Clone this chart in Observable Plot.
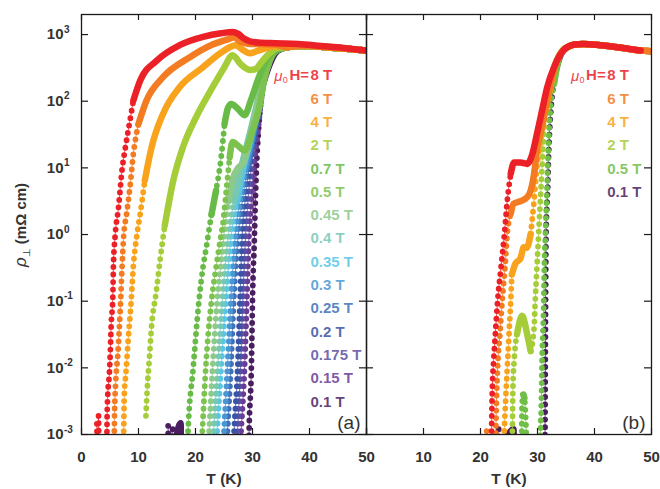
<!DOCTYPE html>
<html><head><meta charset="utf-8">
<script src="https://cdn.jsdelivr.net/npm/d3@7"></script>
<script src="https://cdn.jsdelivr.net/npm/@observablehq/plot@0.6"></script>
<style>body{margin:0;background:#fff}svg{display:block}</style>
</head><body><div id="chart"></div>
<script>
// ---------------- data ----------------
const panels = ["a", "b"];
const xTicks = [0, 10, 20, 30, 40, 50];
const xTickLabelsB = [10, 20, 30, 40, 50];
const yTicks = [1e-3, 1e-2, 1e-1, 1e0, 1e1, 1e2, 1e3];
const yExponents = ["-3", "-2", "-1", "0", "1", "2", "3"];

// legend order (top to bottom)
const legendA = ["8 T", "6 T", "4 T", "2 T", "0.7 T", "0.5 T", "0.45 T", "0.4 T", "0.35 T", "0.3 T", "0.25 T", "0.2 T", "0.175 T", "0.15 T", "0.1 T"];
const legendColorsA = ["#ec2027", "#f37b21", "#f8a31b", "#a5cd39", "#68bb46", "#7cc24e", "#8cc98a", "#76c8b4", "#57c5e6", "#4b96d2", "#3e6fb8", "#3b53a5", "#5b4fa3", "#6a3a96", "#4a1f5f"];
const legendB = ["8 T", "6 T", "4 T", "2 T", "0.5 T", "0.1 T"];
const legendColorsB = ["#ec2027", "#f37b21", "#f8a31b", "#a5cd39", "#6fbe46", "#4a1f5f"];

// values: T in K, lg = log10 of rho_perp in mOhm cm
// shared normal-state tails
const tailA_T = [36, 38, 40, 43, 46, 50];
const tailA_lg = [2.81, 2.83, 2.83, 2.81, 2.79, 2.76];
const tailB_T = [35.5, 36.5, 38, 41, 44, 48, 50];
const tailB_lg = [2.82, 2.85, 2.86, 2.84, 2.81, 2.76, 2.75];

// panel (a)
const a01_T = [15.2, 15.25, 16.0, 16.05, 17.4, 17.45, 29.3, 29.4, 29.8, 30.0, 30.35, 30.5, 30.7, 31.0, 31.5, 32.0, 33.0, 34.3];
const a01_lg = [-2.87, -3.4, -2.92, -3.4, -2.83, -3.4, -3.4, -2.95, -2.0, -1.0, 0.0, 0.5, 1.0, 1.5, 2.0, 2.3, 2.55, 2.75];
const a015_T = [27.7, 28.0, 28.6, 29.0, 29.4, 29.8, 30.2, 30.9, 31.5, 32.3, 33.2, 34.5];
const a015_lg = [-3.4, -2.95, -2.0, -1.0, 0.0, 0.5, 1.0, 1.5, 2.0, 2.4, 2.65, 2.78];
const a0175_T = [27.1, 27.4, 27.9, 28.3, 28.8, 29.2, 29.8, 30.6, 31.4, 32.2, 33.2, 34.5];
const a0175_lg = [-3.4, -2.9, -2.0, -1.0, 0.0, 0.5, 1.0, 1.5, 2.0, 2.4, 2.65, 2.78];
const a02_T = [26.5, 26.8, 27.4, 27.8, 28.2, 28.7, 29.4, 30.4, 31.3, 32.2, 33.1, 34.5];
const a02_lg = [-3.4, -2.9, -2.0, -1.0, 0.0, 0.5, 1.0, 1.5, 2.0, 2.4, 2.65, 2.78];
const a025_T = [25.3, 25.6, 26.2, 26.7, 27.5, 28.2, 29.1, 30.2, 31.2, 32.1, 33.1, 34.5];
const a025_lg = [-3.4, -2.95, -2.0, -1.0, 0.0, 0.5, 1.0, 1.5, 2.0, 2.4, 2.65, 2.78];
const a03_T = [24.7, 25.0, 25.6, 26.2, 27.0, 27.8, 28.8, 30.0, 31.1, 32.1, 33.1, 34.5];
const a03_lg = [-3.4, -2.95, -2.0, -1.0, 0.0, 0.5, 1.0, 1.5, 2.0, 2.4, 2.65, 2.78];
const a035_T = [23.5, 23.8, 24.5, 25.3, 26.3, 27.3, 28.4, 29.8, 31.0, 32.0, 33.0, 34.5];
const a035_lg = [-3.4, -2.95, -2.0, -1.0, 0.0, 0.5, 1.0, 1.5, 2.0, 2.4, 2.65, 2.78];
const a04_T = [22.9, 23.2, 23.9, 24.7, 25.8, 26.8, 28.0, 29.5, 30.9, 32.0, 33.0, 34.5];
const a04_lg = [-3.4, -2.95, -2.0, -1.0, 0.0, 0.5, 1.0, 1.5, 2.0, 2.4, 2.65, 2.78];
const a045_T = [22.1, 22.4, 23.0, 23.8, 24.4, 25.0, 25.8, 26.6, 27.5, 28.4, 29.2, 30.2, 31.0, 32.0, 33.0, 34.5];
const a045_lg = [-3.4, -2.95, -2.0, -1.0, -0.5, 0.0, 0.5, 0.85, 1.0, 1.08, 1.3, 1.7, 2.0, 2.4, 2.65, 2.78];
const a05_T = [20.9, 21.2, 21.8, 22.8, 23.6, 24.4, 24.8, 25.4, 26.0, 26.5, 27.5, 28.6, 30.0, 31.2, 32.0, 33.0, 34.5];
const a05_lg = [-3.4, -2.95, -2.0, -1.0, -0.5, -0.05, 0.16, 0.66, 1.16, 1.39, 1.33, 1.26, 1.56, 1.91, 2.3, 2.6, 2.78];
const a07_T = [18.5, 18.7, 19.6, 20.6, 21.3, 21.9, 22.8, 23.6, 24.5, 25.1, 25.7, 26.3, 27.3, 28.6, 29.7, 30.9, 32.1, 33.2, 34.4];
const a07_lg = [-3.4, -2.95, -2.0, -1.0, -0.5, -0.19, 0.3, 0.66, 1.16, 1.66, 1.9, 1.96, 1.9, 1.79, 2.01, 2.31, 2.56, 2.7, 2.77];
const a2_T = [11.3, 11.6, 11.9, 12.3, 13.1, 13.8, 14.6, 16.1, 17.8, 20.1, 23.0, 25.0, 26.5, 28.0, 29.5, 30.5, 31.5, 33.0, 34.5];
const a2_lg = [-2.72, -2.22, -1.87, -1.37, -0.87, -0.37, 0.13, 0.81, 1.31, 1.76, 2.21, 2.5, 2.69, 2.55, 2.47, 2.48, 2.58, 2.72, 2.8];
const a4_T = [7.3, 7.4, 7.5, 7.8, 8.2, 8.7, 9.1, 9.7, 10.3, 11.1, 12.3, 14.3, 17.2, 21.3, 24.0, 26.0, 27.0, 28.5, 29.5, 31.0, 33.0, 35.0];
const a4_lg = [-3.4, -2.98, -2.42, -2.07, -1.57, -1.02, -0.47, -0.02, 0.31, 0.81, 1.31, 1.81, 2.21, 2.51, 2.7, 2.81, 2.84, 2.76, 2.72, 2.76, 2.81, 2.83];
const a6_T = [5.7, 5.8, 6.0, 6.4, 6.8, 7.1, 7.4, 7.9, 8.5, 9.1, 10.0, 11.4, 14.3, 19.0, 23.0, 26.0, 26.7, 28.0, 29.5, 31.0, 34.0];
const a6_lg = [-3.4, -2.68, -2.22, -1.77, -1.12, -0.52, -0.02, 0.3, 0.71, 1.21, 1.66, 2.01, 2.36, 2.66, 2.85, 2.94, 2.96, 2.89, 2.86, 2.86, 2.85];
const a8_T = [2.7, 2.75, 3.0, 3.05, 4.4, 4.5, 4.6, 4.9, 5.05, 5.2, 5.5, 5.6, 5.9, 6.5, 7.1, 7.7, 8.5, 9.1, 10.3, 13.2, 17.2, 21.5, 24.5, 26.5, 27.5, 28.5, 29.5, 31.0, 34.0, 38.0, 42.0, 46.0, 50.0];
const a8_lg = [-2.84, -3.4, -2.72, -3.4, -3.4, -2.68, -2.42, -2.07, -1.77, -1.37, -0.92, -0.47, -0.02, 0.41, 0.96, 1.31, 1.71, 2.01, 2.31, 2.61, 2.84, 2.97, 3.02, 3.04, 3.01, 2.94, 2.9, 2.88, 2.87, 2.86, 2.83, 2.8, 2.76];

// panel (b)
const b01_T = [23.2, 23.25, 25.8, 25.85, 31.3, 31.35, 31.42, 31.5, 31.8, 31.95, 32.1, 32.4, 33.0, 34.2];
const b01_lg = [-2.92, -3.4, -2.92, -3.4, -3.4, -2.3, -1.05, -0.02, 0.73, 1.2, 1.51, 1.91, 2.4, 2.72];
const b05_T = [27.2, 27.3, 27.5, 27.7, 27.9, 28.0, 28.1, 30.4, 30.5, 30.7, 30.8, 31.0, 31.1, 31.2, 31.4, 31.6, 31.8, 32.0, 32.3, 32.9, 34.0];
const b05_lg = [-3.4, -2.55, -2.4, -2.45, -2.7, -2.95, -3.4, -3.4, -3.0, -2.45, -1.9, -1.35, -1.0, -0.49, 0.01, 0.51, 1.01, 1.51, 1.91, 2.26, 2.7];
const b2_T = [25.5, 25.6, 25.7, 25.9, 26.4, 27.3, 28.2, 28.8, 29.4, 29.6, 29.9, 30.2, 30.5, 30.8, 31.1, 31.5, 32.3, 33.3, 34.5];
const b2_lg = [-3.4, -2.9, -2.25, -1.9, -1.5, -1.22, -1.5, -1.75, -1.4, -1.0, -0.49, 0.01, 0.51, 1.01, 1.51, 1.91, 2.31, 2.6, 2.77];
const b4_T = [24.0, 24.2, 24.4, 24.7, 25.0, 25.3, 25.5, 26.1, 27.0, 27.6, 28.1, 28.8, 29.4, 29.9, 30.5, 31.1, 32.0, 33.0, 34.5];
const b4_lg = [-3.4, -2.9, -2.5, -2.0, -1.5, -1.0, -0.6, -0.44, -0.36, -0.19, -0.2, 0.01, 0.51, 1.01, 1.41, 1.76, 2.11, 2.5, 2.77];
const b6_T = [21.0, 21.1, 21.15, 22.6, 22.7, 22.8, 23.0, 23.4, 23.8, 24.3, 24.7, 25.3, 25.8, 27.0, 28.2, 28.8, 29.4, 29.9, 30.8, 31.7, 33.0, 34.3];
const b6_lg = [-3.4, -2.94, -3.4, -3.4, -2.9, -2.5, -2.0, -1.5, -1.0, -0.49, 0.01, 0.31, 0.46, 0.5, 0.56, 0.66, 0.91, 1.26, 1.61, 2.01, 2.5, 2.75];
const b8_T = [21.9, 22.0, 22.1, 22.3, 22.6, 23.0, 23.6, 24.2, 24.7, 25.3, 25.9, 27.0, 28.2, 29.1, 29.9, 30.8, 31.7, 32.9, 34.0, 35.0, 36.5, 38.0, 41.0, 44.0, 48.1];
const b8_lg = [-3.4, -2.6, -2.25, -1.9, -1.5, -1.0, -0.49, 0.01, 0.51, 0.91, 1.08, 1.08, 1.06, 1.21, 1.51, 1.86, 2.21, 2.51, 2.7, 2.8, 2.85, 2.86, 2.84, 2.81, 2.76];

// drawing order (low field first, highest field on top)
const seriesA = [
  [a01_T, a01_lg, "#4a1f5f", true], [a015_T, a015_lg, "#6a3a96", true], [a0175_T, a0175_lg, "#5b4fa3", true],
  [a02_T, a02_lg, "#3b53a5", true], [a025_T, a025_lg, "#3e6fb8", true], [a03_T, a03_lg, "#4b96d2", true],
  [a035_T, a035_lg, "#57c5e6", true], [a04_T, a04_lg, "#76c8b4", true], [a045_T, a045_lg, "#8cc98a", true],
  [a05_T, a05_lg, "#7cc24e", true], [a07_T, a07_lg, "#68bb46", true], [a2_T, a2_lg, "#a5cd39", true],
  [a4_T, a4_lg, "#f8a31b", true], [a6_T, a6_lg, "#f37b21", true], [a8_T, a8_lg, "#ec2027", false]
];
const seriesB = [
  [b01_T, b01_lg, "#4a1f5f", true], [b05_T, b05_lg, "#6fbe46", true], [b2_T, b2_lg, "#a5cd39", true],
  [b4_T, b4_lg, "#f8a31b", true], [b6_T, b6_lg, "#f37b21", true], [b8_T, b8_lg, "#ec2027", false]
];

// ---------------- layout ----------------
const W = 660, H = 489, mL = 81, mR = 9, mT = 14, mB = 55;
const facetW = (W - mL - mR) / 2, plotH = H - mT - mB;
const pxPerDecade = plotH / Math.log10(2000 / 1e-3), pxPerK = facetW / 50;
const FONT = "'Liberation Sans', Arial, Helvetica, sans-serif";
const INK = "#333";

function rows(panel, T, lg, withTail) {
  let t = T.slice(), l = lg.slice();
  if (withTail) {
    const tt = panel === "a" ? tailA_T : tailB_T, tl = panel === "a" ? tailA_lg : tailB_lg;
    tt.forEach((v, i) => { if (v > t[t.length - 1]) { t.push(v); l.push(tl[i]); } });
  }
  const n = t.length, steep = [];
  for (let i = 0; i < n - 1; i++) {
    const r = Math.abs(l[i + 1] - l[i]) * pxPerDecade / (Math.abs(t[i + 1] - t[i]) * pxPerK);
    steep.push(r >= 5.5);
  }
  return t.map((x, i) => {
    const p = i > 0 ? steep[i - 1] : null, q = i < n - 1 ? steep[i] : null;
    const rho = Math.pow(10, l[i]);
    return {panel, T: x, rho,
      rhoDot: (p === true || q === true) ? rho : NaN,
      rhoBand: (p === false || q === false) ? rho : NaN};
  });
}

const marks = [];
for (const [panel, list] of [["a", seriesA], ["b", seriesB]]) {
  for (const [T, lg, color, tail] of list) {
    const d = rows(panel, T, lg, tail);
    marks.push(Plot.line(d, {fx: "panel", x: "T", y: "rho", stroke: color, strokeWidth: 1, strokeOpacity: 0.75, curve: "monotone-x", clip: true}));
    marks.push(Plot.line(d, {fx: "panel", x: "T", y: "rhoDot", stroke: color, strokeWidth: 5.8, strokeDasharray: "0 7.5", strokeLinecap: "round", curve: "monotone-x", clip: true}));
    marks.push(Plot.line(d, {fx: "panel", x: "T", y: "rhoBand", stroke: color, strokeWidth: 6.5, strokeLinecap: "round", strokeLinejoin: "round", curve: "monotone-x", clip: true}));
  }
}

// frame and inward ticks
const xTickRows = panels.flatMap(p => xTicks.map(t => ({panel: p, t})));
const yTickRows = panels.flatMap(p => yTicks.map(v => ({panel: p, v})));
marks.push(Plot.frame({stroke: "#1a1a1a", strokeWidth: 1.3}));
marks.push(Plot.tickX(xTickRows, {fx: "panel", x: "t", insetTop: plotH - 6, stroke: "#1a1a1a", strokeWidth: 1.2}));
marks.push(Plot.tickX(xTickRows, {fx: "panel", x: "t", insetBottom: plotH - 6, stroke: "#1a1a1a", strokeWidth: 1.2}));
marks.push(Plot.tickY(yTickRows, {fx: "panel", y: "v", insetRight: facetW - 7, stroke: "#1a1a1a", strokeWidth: 1.2}));
marks.push(Plot.tickY(yTickRows, {fx: "panel", y: "v", insetLeft: facetW - 7, stroke: "#1a1a1a", strokeWidth: 1.2}));

// tick labels
const xLabRows = [...xTicks.map(t => ({panel: "a", t})), ...xTickLabelsB.map(t => ({panel: "b", t}))];
marks.push(Plot.text(xLabRows, {fx: "panel", x: "t", text: d => String(d.t), frameAnchor: "bottom", dy: 23, lineAnchor: "middle", fontSize: 15, fontWeight: "bold", fill: INK}));
marks.push(Plot.text(panels.map(p => ({panel: p})), {fx: "panel", text: () => "T (K)", frameAnchor: "bottom", dy: 45, lineAnchor: "middle", fontSize: 15.5, fontWeight: "bold", fill: INK}));
const yLabRows = yTicks.map((v, i) => ({panel: "a", v, e: yExponents[i]}));
marks.push(Plot.text(yLabRows, {fx: "panel", y: "v", text: () => "10", frameAnchor: "left", textAnchor: "end", dx: -18, lineAnchor: "middle", fontSize: 15, fontWeight: "bold", fill: INK}));
marks.push(Plot.text(yLabRows, {fx: "panel", y: "v", text: "e", frameAnchor: "left", textAnchor: "start", dx: -17.5, dy: -5, lineAnchor: "middle", fontSize: 10, fontWeight: "bold", fill: INK}));

// panel letters
marks.push(Plot.text([{panel: "a", s: "(a)"}, {panel: "b", s: "(b)"}], {fx: "panel", text: "s", frameAnchor: "bottom-right", dx: -6, dy: -12, lineAnchor: "middle", fontSize: 19, fill: INK}));

// field legends
const legendX = {a: 229, b: 240.7};
for (const [panel, labs, cols] of [["a", legendA, legendColorsA], ["b", legendB, legendColorsB]]) {
  labs.forEach((s, i) => {
    marks.push(Plot.text([{panel, s}], {fx: "panel", text: "s", frameAnchor: "top-left", dx: legendX[panel], dy: 61 + i * 23.3, textAnchor: "start", lineAnchor: "middle", fontSize: 15, fontWeight: "bold", fill: cols[i], fillOpacity: 0.85}));
  });
  marks.push(Plot.text([{panel, s: "H="}], {fx: "panel", text: "s", frameAnchor: "top-left", dx: legendX[panel] - 1.5, dy: 61, textAnchor: "end", lineAnchor: "middle", fontSize: 15, fontWeight: "bold", fill: cols[0], fillOpacity: 0.85}));
  marks.push(Plot.text([{panel, s: "μ"}], {fx: "panel", text: "s", frameAnchor: "top-left", dx: legendX[panel] - 28, dy: 62, textAnchor: "end", lineAnchor: "middle", fontSize: 15, fontStyle: "italic", fill: cols[0], fillOpacity: 0.85}));
  marks.push(Plot.text([{panel, s: "0"}], {fx: "panel", text: "s", frameAnchor: "top-left", dx: legendX[panel] - 27.7, dy: 66, textAnchor: "start", lineAnchor: "middle", fontSize: 9, fill: cols[0], fillOpacity: 0.85}));
}

const chart = Plot.plot({
  width: W, height: H,
  marginLeft: mL, marginRight: mR, marginTop: mT, marginBottom: mB,
  style: {fontFamily: FONT, background: "#fff", overflow: "visible"},
  fx: {domain: panels, padding: 0, axis: null, label: null},
  x: {domain: [0, 50], axis: null},
  y: {type: "log", domain: [1e-3, 2000], axis: null},
  marks
});

// y axis title with italic rho and subscript
const svg = d3.select(chart);
const t = svg.append("text")
  .attr("transform", "translate(26,225) rotate(-90)")
  .attr("text-anchor", "middle")
  .attr("fill", INK)
  .attr("font-family", FONT);
t.append("tspan").attr("font-style", "italic").attr("font-size", 17).text("ρ");
t.append("tspan").attr("font-size", 10).attr("dy", 4).text("⊥");
t.append("tspan").attr("font-size", 15).attr("font-weight", "bold").attr("dy", -4).text(" (mΩ cm)");

document.getElementById("chart").appendChild(chart);
</script>
</body></html>
